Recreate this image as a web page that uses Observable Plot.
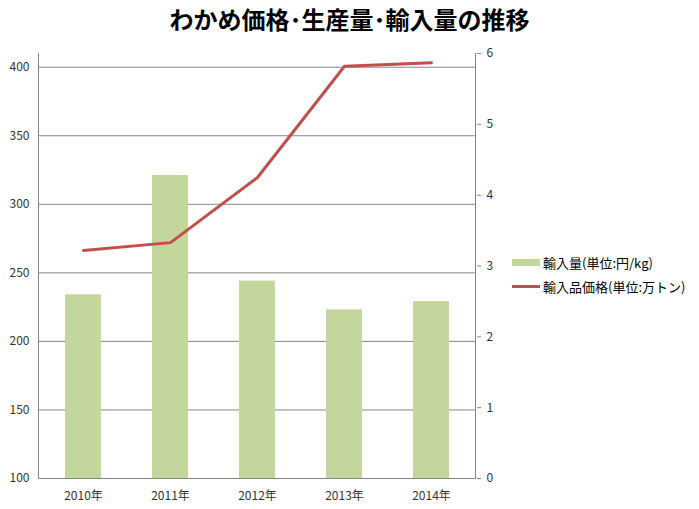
<!DOCTYPE html>
<html><head><meta charset="utf-8">
<script src="https://cdn.jsdelivr.net/npm/d3@7"></script>
<script src="https://cdn.jsdelivr.net/npm/@observablehq/plot@0.6"></script>
<style>
body{margin:0;background:#fff;font-family:"Noto Sans CJK JP",sans-serif;}
#wrap{position:relative;width:699px;height:509px;}
#title{position:absolute;left:0;top:3px;width:699px;text-align:center;font-weight:bold;font-size:24px;line-height:32px;color:#000;}
.leg{position:absolute;left:512px;font-size:13px;color:#000;display:flex;align-items:center;height:16px;white-space:nowrap;}
.sw{display:inline-block;width:28px;margin-right:3px;}
</style></head><body>
<div id="wrap">
<div id="title">わかめ価格･生産量･輸入量の推移</div>
<div id="chart"></div>
<div class="leg" style="top:254px"><span class="sw" style="height:7px;background:#c3d69b"></span>輸入量(単位:円/kg)</div>
<div class="leg" style="top:278px"><span class="sw" style="height:3px;background:#c0504d"></span>輸入品価格(単位:万トン)</div>
</div>
<script>
const years = ["2010年","2011年","2012年","2013年","2014年"];
const importVolume = [234, 321, 244, 223, 229];
const importPrice = [3.22, 3.33, 4.25, 5.82, 5.87];
const leftTicks = [100,150,200,250,300,350,400];
const rightTicks = [0,1,2,3,4,5,6];

const L0 = 100, L1 = 410, R1 = 6;
const toLeft = v => L0 + v * (L1 - L0) / R1;
const bars = years.map((y,i)=>({year:y, v:importVolume[i]}));
const line = years.map((y,i)=>({year:y, v:toLeft(importPrice[i])}));

const axisLines = (index, scales, values, dim) => {
  const g = d3.create("svg:g");
  const x0 = dim.marginLeft, x1 = dim.width - dim.marginRight, y0 = dim.marginTop, y1 = dim.height - dim.marginBottom;
  g.append("line").attr("x1",x0+0.5).attr("x2",x0+0.5).attr("y1",y0).attr("y2",y1).attr("stroke","#868686");
  g.append("line").attr("x1",x1-0.5).attr("x2",x1-0.5).attr("y1",y0).attr("y2",y1).attr("stroke","#868686");
  return g.node();
};

const chart = Plot.plot({
  width: 699, height: 509,
  marginTop: 53, marginBottom: 31, marginLeft: 38, marginRight: 223,
  style: {fontFamily: '"Noto Sans CJK JP", sans-serif', fontSize: "12px", color: "#333"},
  x: {domain: years, paddingInner: 0.59, paddingOuter: 0.295, label: null},
  y: {domain: [L0, L1], label: null},
  marks: [
    Plot.ruleY(leftTicks.slice(1), {stroke: "#868686", strokeWidth: 1}),
    Plot.barY(bars, {x: "year", y1: () => L0, y2: "v", fill: "#c3d69b"}),
    Plot.ruleY([L0], {stroke: "#868686"}),
    axisLines,
    Plot.line(line, {x: "year", y: "v", stroke: "#c0504d", strokeWidth: 3}),
    Plot.axisY(leftTicks, {anchor: "left", tickSize: 0, tickPadding: 9, label: null}),
    Plot.axisY(rightTicks.map(toLeft), {anchor: "right", tickSize: 4, tickPadding: 6, stroke: "#868686", label: null, tickFormat: d => String(Math.round((d - L0) * R1 / (L1 - L0)))}),
    Plot.axisX({tickSize: 0, tickPadding: 13, label: null})
  ]
});
document.getElementById("chart").appendChild(chart);
</script>
</body></html>
